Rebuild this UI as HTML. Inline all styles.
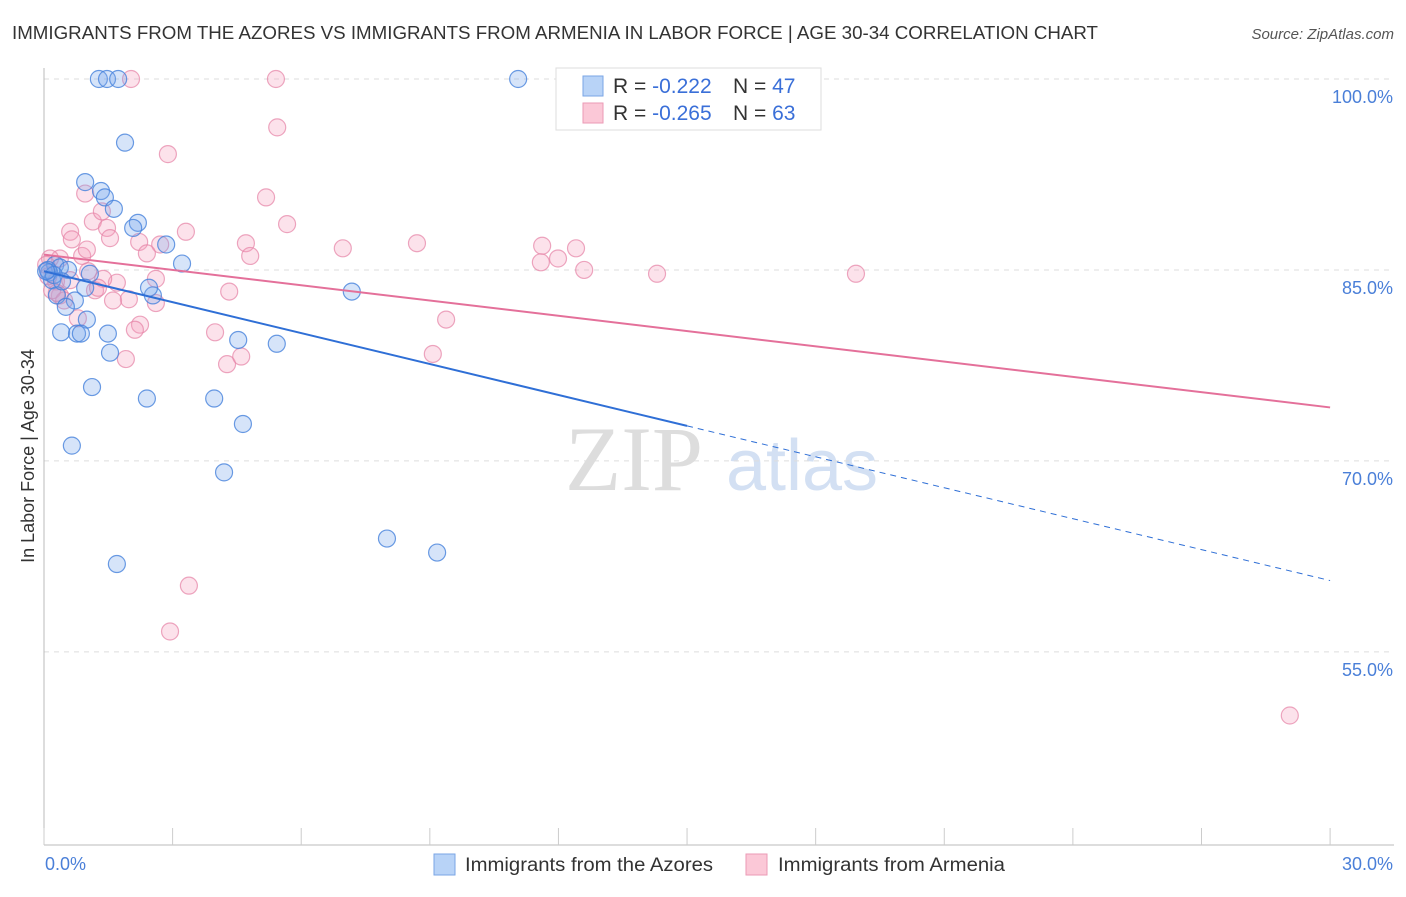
<!DOCTYPE html>
<html><head><meta charset="utf-8"><style>
body{margin:0;background:#fff;font-family:"Liberation Sans",sans-serif}
svg text{font-family:"Liberation Sans",sans-serif}
</style></head><body>
<svg id="chart" width="1406" height="892" xmlns="http://www.w3.org/2000/svg">
<text x="12" y="39" font-size="18" fill="#333" textLength="1086" lengthAdjust="spacingAndGlyphs">IMMIGRANTS FROM THE AZORES VS IMMIGRANTS FROM ARMENIA IN LABOR FORCE | AGE 30-34 CORRELATION CHART</text>
<text x="1394" y="39" font-size="15" fill="#555" font-style="italic" text-anchor="end">Source: ZipAtlas.com</text>
<g>
<text x="634" y="490" font-size="92" fill="#ddd" text-anchor="middle" font-family="Liberation Serif" style="font-family:'Liberation Serif',serif">ZIP</text>
<text x="802" y="490" font-size="72" fill="#d3e0f3" text-anchor="middle">atlas</text>
</g>
<g id="grid"></g>
<g id="axes"></g>
<text transform="translate(34,456) rotate(-90)" font-size="18" fill="#333" text-anchor="middle">In Labor Force | Age 30-34</text>
<g id="pts"></g>
<g id="trends"></g>
<g>
<rect x="556" y="68" width="265" height="62" fill="#fff" stroke="#ddd"/>
<rect x="583" y="76" width="20" height="20" fill="#b8d3f7" stroke="#7aa6e6"/>
<rect x="583" y="103" width="20" height="20" fill="#fbc8d7" stroke="#eb9ab5"/>
<text x="613" y="93" font-size="21" fill="#333">R = <tspan fill="#3a6fd8">-0.222</tspan><tspan x="733">N = </tspan><tspan fill="#3a6fd8">47</tspan></text>
<text x="613" y="120" font-size="21" fill="#333">R = <tspan fill="#3a6fd8">-0.265</tspan><tspan x="733">N = </tspan><tspan fill="#3a6fd8">63</tspan></text>
</g>
<g>
<rect x="434" y="854" width="21" height="21" fill="#b8d3f7" stroke="#7aa6e6"/>
<text x="465" y="871" font-size="19" fill="#333" textLength="248" lengthAdjust="spacingAndGlyphs">Immigrants from the Azores</text>
<rect x="746" y="854" width="21" height="21" fill="#fbc8d7" stroke="#eb9ab5"/>
<text x="778" y="871" font-size="19" fill="#333" textLength="227" lengthAdjust="spacingAndGlyphs">Immigrants from Armenia</text>
</g>
</svg>
<script>
const xTicks=[0,3,6,9,12,15,18,21,24,27,30];
const yTicks=[100,85,70,55];
const yTickLabels=["100.0%","85.0%","70.0%","55.0%"];
const xTickLabels=["0.0%","30.0%"];
const azoresX=[1.28,1.47,1.73,11.06,1.89,0.96,1.33,1.42,1.63,2.19,2.08,2.85,3.22,0.26,0.37,0.56,1.07,0.12,0.19,0.96,0.30,2.54,2.45,7.18,0.72,0.51,1.0,0.40,0.77,0.86,1.49,4.53,5.43,1.54,1.12,2.40,3.97,4.64,0.65,4.20,8.0,9.17,1.70,0.09,0.23,0.42,0.05];
const azoresY=[100,100,100,100,95.0,91.9,91.2,90.7,89.8,88.7,88.3,87.0,85.5,85.4,85.2,85.0,84.7,84.8,84.2,83.6,83.0,83.0,83.6,83.3,82.6,82.1,81.1,80.1,80.0,80.0,80.0,79.5,79.2,78.5,75.8,74.9,74.9,72.9,71.2,69.1,63.9,62.8,61.9,85.0,84.6,84.1,84.9];
const armeniaX=[2.03,5.41,5.44,2.89,5.18,0.96,5.67,1.14,1.35,1.47,1.54,0.61,0.65,3.31,2.22,2.71,4.71,4.81,2.40,6.97,8.70,11.62,12.41,11.59,11.99,12.60,14.30,18.94,0.89,0.37,0.14,0.05,1.70,1.38,1.03,2.61,1.19,4.32,1.98,2.61,0.37,2.24,2.12,0.79,3.99,9.38,9.07,4.27,4.60,1.91,3.38,2.94,29.06,0.28,1.26,0.19,0.61,0.47,1.61,1.0,12.99,0.1,0.3];
const armeniaY=[100,100,96.2,94.1,90.7,91.0,88.6,88.8,89.6,88.3,87.5,88.0,87.4,88.0,87.2,87.0,87.1,86.1,86.3,86.7,87.1,86.9,86.7,85.6,85.9,85.0,84.7,84.7,86.1,85.9,85.9,85.4,84.0,84.3,84.9,84.3,83.4,83.3,82.7,82.4,83.0,80.7,80.3,81.2,80.1,81.1,78.4,77.6,78.2,78.0,60.2,56.6,50.0,84.1,83.6,83.4,84.2,82.6,82.6,86.6,100,84.5,83.2];
const azoresTrend=[84.9,60.6];
const armeniaTrend=[86.2,74.2];
const NS="http://www.w3.org/2000/svg";
const X=v=>44+v*42.87;
const Y=v=>79+(100-v)*12.73;
function mk(tag,attrs,parent){const e=document.createElementNS(NS,tag);for(const k in attrs)e.setAttribute(k,attrs[k]);parent.appendChild(e);return e;}
const grid=document.getElementById('grid'),axes=document.getElementById('axes'),pts=document.getElementById('pts'),tr=document.getElementById('trends');
yTicks.forEach((t,i)=>{
  const l=mk('line',{x1:44,x2:1394,y1:Y(t),y2:Y(t),stroke:'#ddd','stroke-dasharray':'5,5'},grid);
  
  
  const tx=mk('text',{x:1393,y:Y(t)+24,'font-size':18,fill:'#4a7fd8','text-anchor':'end'},axes);
  tx.textContent=yTickLabels[i];
  
  
});
mk('line',{x1:44,x2:44,y1:68,y2:845,stroke:'#bbb'},axes);
mk('line',{x1:44,x2:1394,y1:845,y2:845,stroke:'#bbb'},axes);
xTicks.forEach(t=>{
  const l=mk('line',{x1:X(t),x2:X(t),y1:828,y2:845,stroke:'#ccc'},axes);
  
  
});
[[0,'start',45],[30,'end',1393]].forEach((d,i)=>{
  const tx=mk('text',{x:d[2],y:870,'font-size':18,fill:'#4a7fd8','text-anchor':d[1]},axes);
  tx.textContent=xTickLabels[i];
  
  
});
armeniaX.forEach((x,i)=>{
  const c=mk('circle',{cx:X(x),cy:Y(armeniaY[i]),r:8.5,fill:'rgba(245,160,190,0.3)',stroke:'rgba(230,130,165,0.7)','stroke-width':1.2},pts);
  
  
});
azoresX.forEach((x,i)=>{
  const c=mk('circle',{cx:X(x),cy:Y(azoresY[i]),r:8.5,fill:'rgba(120,165,235,0.3)',stroke:'rgba(70,130,220,0.8)','stroke-width':1.2},pts);
  
  
});
const at=v=>azoresTrend[0]+(azoresTrend[1]-azoresTrend[0])*v/30;
let l1=mk('line',{x1:X(0),y1:Y(at(0)),x2:X(15),y2:Y(at(15)),stroke:'#2f6fd6','stroke-width':2},tr);


let l2=mk('line',{x1:X(15),y1:Y(at(15)),x2:X(30),y2:Y(at(30)),stroke:'#2f6fd6','stroke-width':1,'stroke-dasharray':'6,5'},tr);


let l3=mk('line',{x1:X(0),y1:Y(armeniaTrend[0]),x2:X(30),y2:Y(armeniaTrend[1]),stroke:'#e4709a','stroke-width':2},tr);


</script>
</body></html>
